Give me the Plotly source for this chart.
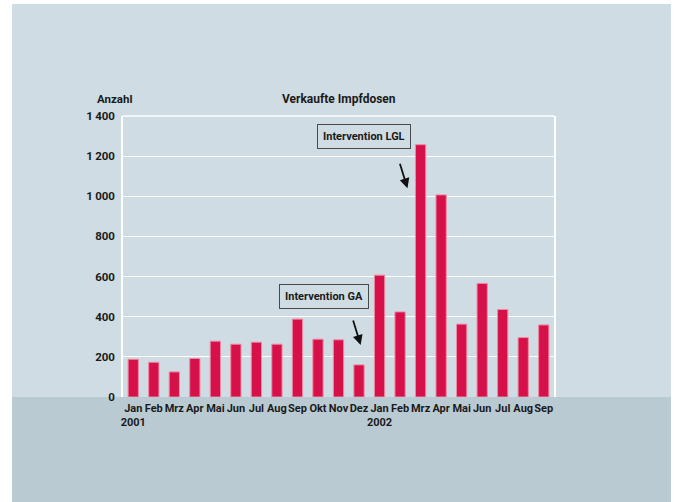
import plotly.graph_objects as go

months = ["Jan", "Feb", "Mrz", "Apr", "Mai", "Jun", "Jul", "Aug", "Sep", "Okt", "Nov", "Dez",
          "Jan", "Feb", "Mrz", "Apr", "Mai", "Jun", "Jul", "Aug", "Sep"]
year_labels = {0: "2001", 12: "2002"}
doses = [188, 173, 125, 192, 278, 263, 273, 263, 388, 288, 285, 160,
         607, 424, 1257, 1007, 363, 566, 436, 296, 359]
y_ticks = [0, 200, 400, 600, 800, 1000, 1200, 1400]
y_ticktext = ["0", "200", "400", "600", "800", "1\u2009000", "1\u2009200", "1\u2009400"]

W, H = 676, 502
L, R, T, B = 123, 554, 116, 397
pw, ph = R - L, B - T

def px_x(p):
    return (p - L) / pw

def px_y(p):
    return (B - p) / ph

FONT = "Roboto, Liberation Sans, sans-serif"
PANEL = "#cfdce3"
BAND = "#bacad2"
TXT = "#1a1a1a"

xpos = list(range(len(months)))
ticktext = [m + ("<br>" + year_labels[i] if i in year_labels else "") for i, m in enumerate(months)]

fig = go.Figure(go.Bar(
    x=xpos, y=doses,
    marker=dict(color="#d6114a", line=dict(color="#ef8aa2", width=1)),
    hoverinfo="skip",
))

shapes = [
    dict(type="rect", xref="paper", yref="paper", layer="below",
         x0=px_x(12), x1=px_x(671), y0=px_y(4), y1=px_y(397),
         fillcolor=PANEL, line=dict(width=0)),
    dict(type="rect", xref="paper", yref="paper", layer="below",
         x0=px_x(12), x1=px_x(671), y0=px_y(397), y1=px_y(503),
         fillcolor=BAND, line=dict(width=0)),
    dict(type="line", xref="paper", yref="paper", x0=0, x1=1, y0=1, y1=1,
         line=dict(color="white", width=1.5)),
]

bold = dict(family=FONT, color=TXT, weight="bold")

annotations = [
    dict(text="Verkaufte Impfdosen", xref="paper", yref="paper", x=0.5, y=px_y(99),
         xanchor="center", yanchor="middle", showarrow=False, font=dict(bold, size=12)),
    dict(text="Anzahl", xref="paper", yref="paper", x=px_x(95), y=px_y(99),
         xanchor="left", yanchor="middle", showarrow=False, font=dict(bold, size=11.5)),
    dict(text="Intervention LGL", x=11.22, y=1298, xref="x", yref="y", showarrow=False,
         bordercolor="#4a4a4a", borderwidth=1, borderpad=5, bgcolor=PANEL,
         font=dict(bold, size=11)),
    dict(text="Intervention GA", x=9.27, y=500, xref="x", yref="y", showarrow=False,
         bordercolor="#4a4a4a", borderwidth=1, borderpad=5, bgcolor=PANEL,
         font=dict(bold, size=11)),
    dict(text="", x=13.36, y=1040, xref="x", yref="y", showarrow=True,
         ax=-8, ay=-26, arrowhead=2, arrowsize=1.1, arrowwidth=1.8, arrowcolor="#111"),
    dict(text="", x=11.08, y=259, xref="x", yref="y", showarrow=True,
         ax=-8, ay=-26, arrowhead=2, arrowsize=1.1, arrowwidth=1.8, arrowcolor="#111"),
]

fig.update_layout(
    width=W, height=H,
    margin=dict(l=L, r=W - R, t=T, b=H - B, pad=0),
    paper_bgcolor="white",
    plot_bgcolor="rgba(0,0,0,0)",
    showlegend=False,
    bargap=0.5,
    shapes=shapes,
    annotations=annotations,
    font=dict(family=FONT, size=12, color=TXT),
    xaxis=dict(
        range=[-0.5, len(months) - 0.5], tickvals=xpos, ticktext=ticktext,
        showgrid=False, zeroline=False, showline=False, ticks="", tickangle=0,
        ticklabelstandoff=3,
        tickfont=dict(bold, size=11),
        fixedrange=True,
    ),
    yaxis=dict(
        range=[0, 1400], tickvals=y_ticks, ticktext=y_ticktext,
        showgrid=True, gridcolor="white", gridwidth=1.2,
        zeroline=False, showline=True, linecolor="white", linewidth=1.5, mirror=True,
        ticks="", ticklabelstandoff=4,
        tickfont=dict(bold, size=11.5),
        fixedrange=True,
    ),
)

fig.write_html("out.html")
